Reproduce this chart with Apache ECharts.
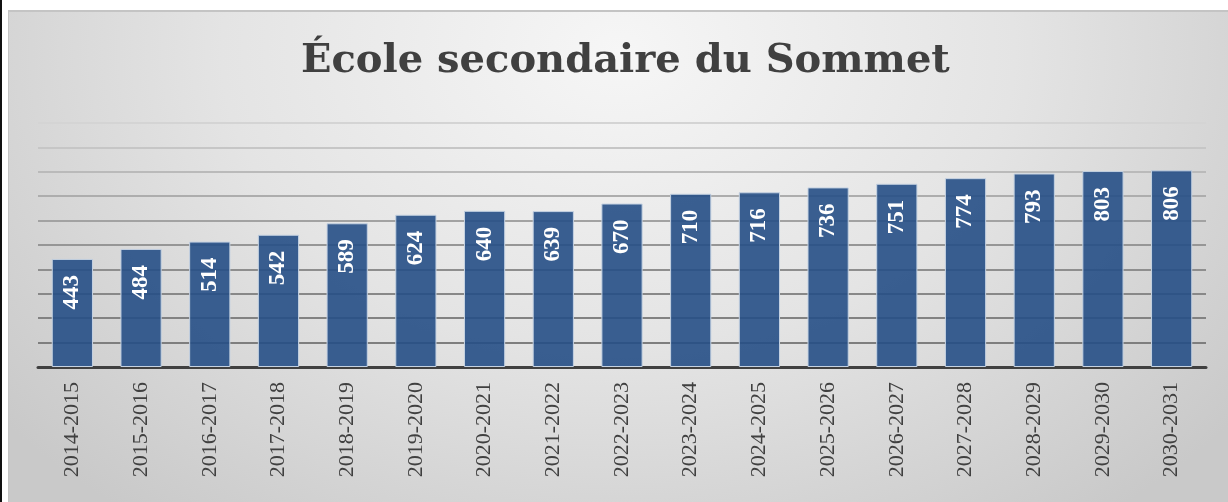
<!DOCTYPE html>
<html>
<head>
<meta charset="utf-8">
<script src="https://cdn.jsdelivr.net/npm/echarts@6/dist/echarts.min.js"></script>
<style>
  html, body { margin: 0; padding: 0; width: 1228px; height: 502px; background: #fff; overflow: hidden; }
  #edge { position: absolute; left: 0; top: 0; width: 2px; height: 502px; background: #111; }
  #frame {
    position: absolute; left: 8px; top: 10px; width: 1220px; height: 492px;
    border-top: 2px solid #c4c4c4; border-left: 1px solid #c4c4c4; box-sizing: border-box;
    background: radial-gradient(ellipse 65% 120% at 50% 8%, #f6f6f6 0%, #e4e4e4 50%, #c9c9c9 100%);
  }
  #main { position: absolute; left: 0; top: 0; width: 1228px; height: 502px; }
</style>
</head>
<body>
<div id="edge"></div>
<div id="frame"></div>
<div id="main"></div>
<script>
// années scolaires et effectifs
const years = ['2014-2015', '2015-2016', '2016-2017', '2017-2018', '2018-2019', '2019-2020',
  '2020-2021', '2021-2022', '2022-2023', '2023-2024', '2024-2025', '2025-2026',
  '2026-2027', '2027-2028', '2028-2029', '2029-2030', '2030-2031'];
const effectifs = [443, 484, 514, 542, 589, 624, 640, 639, 670, 710, 716, 736, 751, 774, 793, 803, 806];

// lignes de grille plus foncées en bas, plus pâles en haut
const gridColors = ['#555', '#7e7e7e', '#828282', '#888', '#8e8e8e', '#969696', '#a2a2a2', '#adadad', '#bababa', '#c6c6c6', '#d4d4d4'];

var myChart = echarts.init(document.getElementById('main'));

var option = {
  backgroundColor: 'transparent',
  title: {
    text: 'École secondaire du Sommet',
    left: 296,
    top: 37,
    textStyle: {
      fontFamily: 'DejaVu Serif',
      fontWeight: 'bold',
      fontSize: 40,
      color: '#404040'
    }
  },
  grid: { left: 38, right: 22, top: 123, bottom: 135 },
  xAxis: {
    type: 'category',
    data: years,
    axisLine: { lineStyle: { color: '#404040', width: 3 } },
    axisTick: { show: false },
    axisLabel: {
      rotate: 90,
      margin: 15,
      fontFamily: 'Liberation Serif',
      fontSize: 22,
      color: '#404040'
    }
  },
  yAxis: {
    type: 'value',
    min: 0,
    max: 1000,
    interval: 100,
    axisLabel: { show: false },
    axisLine: { show: false },
    axisTick: { show: false },
    splitLine: { lineStyle: { color: gridColors, width: 2 } }
  },
  series: [
    {
      type: 'bar',
      data: effectifs,
      barWidth: '60%',
      itemStyle: {
        color: 'rgba(38, 79, 134, 0.9)',
        borderColor: '#c5d2e2',
        borderWidth: 1
      },
      label: {
        show: true,
        position: 'insideTop',
        rotate: 90,
        align: 'right',
        verticalAlign: 'middle',
        distance: 16,
        fontFamily: 'Liberation Serif',
        fontWeight: 'bold',
        fontSize: 23,
        color: '#fff'
      }
    }
  ]
};

myChart.setOption(option);
</script>
</body>
</html>
